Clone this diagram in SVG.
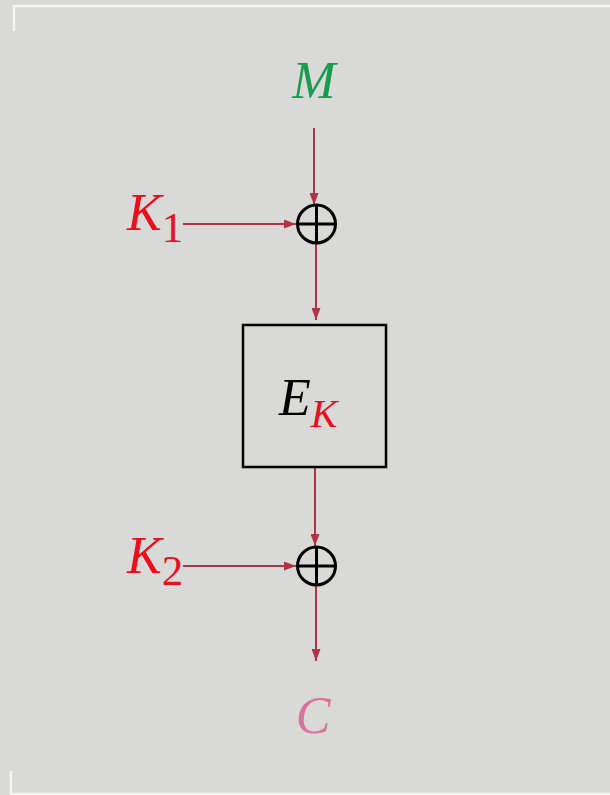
<svg xmlns="http://www.w3.org/2000/svg" width="610" height="795" viewBox="0 0 610 795">
<style>
.lbl{font-family:"Liberation Serif","DejaVu Serif",serif;font-style:italic;}
.conn{stroke:#b03446;stroke-width:2;fill:none;marker-end:url(#ah);}
.xor{stroke:#000;stroke-width:3;fill:none;}
</style>
<defs>
<marker id="ah" viewBox="0 0 12 9" refX="12" refY="4.5" markerWidth="12" markerHeight="9" markerUnits="userSpaceOnUse" orient="auto">
<path d="M0,0 L12,4.5 L0,9 Z" fill="#b03446"/>
</marker>
</defs>
<rect width="610" height="795" fill="#d9d9d7"/>
<path d="M14,31 V6 H610" stroke="#f4f4f2" stroke-width="2.5" fill="none"/>
<path d="M11,771 V794 H610" stroke="#f4f4f2" stroke-width="2.5" fill="none"/>
<g id="connectors">
<line class="conn" x1="314" y1="128" x2="314" y2="205"/>
<line class="conn" x1="183" y1="224" x2="296" y2="224"/>
<line class="conn" x1="316" y1="244" x2="316" y2="320"/>
<line class="conn" x1="315" y1="468" x2="315" y2="546"/>
<line class="conn" x1="183" y1="566" x2="296" y2="566"/>
<line class="conn" x1="316" y1="586" x2="316" y2="661"/>
</g>
<g id="M"><text class="lbl" x="314" y="98" font-size="52" fill="#1a9c50" text-anchor="middle">M</text></g>
<g id="K1"><text class="lbl" x="127" y="230" font-size="52" fill="#e8101c">K<tspan font-style="normal" font-size="43" dy="12">1</tspan></text></g>
<g id="xor1"><circle class="xor" cx="316.5" cy="224" r="19"/><line class="xor" x1="297.5" y1="224" x2="335.5" y2="224"/><line class="xor" x1="316.5" y1="205" x2="316.5" y2="243"/></g>
<g id="E"><rect x="243" y="325" width="143" height="142" fill="none" stroke="#000" stroke-width="2.5"/><text class="lbl" x="279" y="415" font-size="52" fill="#000">E<tspan font-size="40" fill="#e8101c" dy="12">K</tspan></text></g>
<g id="K2"><text class="lbl" x="127" y="573" font-size="52" fill="#e8101c">K<tspan font-style="normal" font-size="43" dy="12">2</tspan></text></g>
<g id="xor2"><circle class="xor" cx="316.5" cy="566" r="19"/><line class="xor" x1="297.5" y1="566" x2="335.5" y2="566"/><line class="xor" x1="316.5" y1="547" x2="316.5" y2="585"/></g>
<g id="C"><text class="lbl" x="313" y="733" font-size="52" fill="#d8749c" text-anchor="middle">C</text></g>
</svg>
